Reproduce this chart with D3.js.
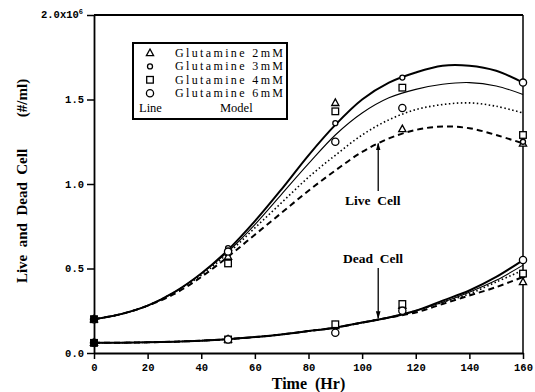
<!DOCTYPE html>
<html>
<head>
<meta charset="utf-8">
<script src="https://cdn.jsdelivr.net/npm/d3@7"></script>
<style>
  body { margin: 0; background: #fff; }
  svg { display: block; }
  text { white-space: pre; }
</style>
</head>
<body>
<div id="chart"></div>
<script>
// measured samples (x10^6 cells/ml)
const dataTimes = [0, 50, 90, 115, 160];
const live2 = [0.20, 0.57, 1.48, 1.325, 1.24];
const live3 = [0.20, 0.62, 1.36, 1.63, 1.25];
const live4 = [0.20, 0.53, 1.43, 1.57, 1.29];
const live6 = [0.20, 0.60, 1.25, 1.45, 1.60];
const dead2 = [0.06, 0.08, 0.16, 0.28, 0.42];
const dead3 = [0.06, 0.08, 0.16, 0.25, 0.46];
const dead4 = [0.06, 0.08, 0.17, 0.29, 0.47];
const dead6 = [0.06, 0.08, 0.12, 0.25, 0.55];

// model curves
const modelTimes = [0, 10, 20, 30, 40, 50, 60, 70, 80, 90, 100, 110, 120, 130, 140, 150, 160];
const modelLive6 = [0.20, 0.23, 0.28, 0.36, 0.47, 0.61, 0.78, 0.97, 1.17, 1.35, 1.50, 1.60, 1.66, 1.70, 1.70, 1.67, 1.60];
const modelLive4 = [0.20, 0.23, 0.28, 0.36, 0.47, 0.60, 0.76, 0.94, 1.12, 1.29, 1.42, 1.51, 1.56, 1.59, 1.60, 1.58, 1.53];
const modelLive3 = [0.20, 0.23, 0.28, 0.36, 0.46, 0.59, 0.74, 0.89, 1.04, 1.17, 1.29, 1.38, 1.44, 1.47, 1.48, 1.46, 1.42];
const modelLive2 = [0.20, 0.23, 0.28, 0.35, 0.45, 0.57, 0.70, 0.83, 0.96, 1.08, 1.19, 1.27, 1.32, 1.34, 1.33, 1.29, 1.24];
const modelDead6 = [0.06, 0.061, 0.063, 0.067, 0.073, 0.082, 0.094, 0.11, 0.13, 0.15, 0.18, 0.21, 0.25, 0.31, 0.37, 0.45, 0.55];
const modelDead4 = [0.06, 0.061, 0.063, 0.067, 0.073, 0.082, 0.094, 0.11, 0.13, 0.15, 0.18, 0.21, 0.25, 0.30, 0.36, 0.43, 0.52];
const modelDead3 = [0.06, 0.061, 0.063, 0.067, 0.073, 0.082, 0.094, 0.11, 0.13, 0.15, 0.18, 0.21, 0.25, 0.30, 0.35, 0.42, 0.49];
const modelDead2 = [0.06, 0.061, 0.063, 0.067, 0.073, 0.082, 0.094, 0.11, 0.13, 0.15, 0.18, 0.21, 0.24, 0.29, 0.34, 0.39, 0.45];

const xTicks = [0, 20, 40, 60, 80, 100, 120, 140, 160];
const yTicks = [0, 0.5, 1.0, 1.5, 2.0];
const legendLabels = ['Glutamine 2mM', 'Glutamine 3mM', 'Glutamine 4mM', 'Glutamine 6mM'];

const width = 535, height = 392;
const margin = { top: 15, right: 12, bottom: 39, left: 94 };
const serif = '"Liberation Serif", "DejaVu Serif", serif';
const mono = '"Liberation Mono", "DejaVu Sans Mono", monospace';

const svg = d3.select('#chart').append('svg')
    .attr('width', width)
    .attr('height', height);

const x = d3.scaleLinear().domain([0, 160]).range([margin.left, width - margin.right]);
const y = d3.scaleLinear().domain([0, 2.0]).range([height - margin.bottom, margin.top]);

// axes
const xAxis = svg.append('g')
    .attr('transform', `translate(0,${y(0)})`)
    .call(d3.axisBottom(x).tickValues(xTicks).tickSize(6).tickSizeOuter(0).tickFormat(d3.format('d')));
const yAxis = svg.append('g')
    .attr('transform', `translate(${x(0)},0)`)
    .call(d3.axisLeft(y).tickValues(yTicks).tickSize(7).tickSizeOuter(0)
        .tickFormat(d => d === 2.0 ? '' : d3.format('.1f')(d)));

[xAxis, yAxis].forEach(a => {
    a.select('.domain').attr('stroke', '#000').attr('stroke-width', 1.8);
    a.selectAll('.tick line').attr('stroke', '#000').attr('stroke-width', 1.5);
    a.selectAll('.tick text')
        .attr('fill', '#000')
        .attr('font-family', mono)
        .attr('font-weight', 'bold')
        .attr('font-size', 10.5);
});
xAxis.selectAll('.tick text').attr('dy', '0.9em');

// 2.0x10^6 top label
const topLab = svg.append('text')
    .attr('x', x(0) - 11)
    .attr('y', y(2.0) + 3)
    .attr('text-anchor', 'end')
    .attr('font-family', mono)
    .attr('font-weight', 'bold')
    .attr('font-size', 10.5)
    .text('2.0x10');
topLab.append('tspan').attr('dy', -4).attr('font-size', 7).text('6');

// frame: top and right
svg.append('line')
    .attr('x1', x(0)).attr('x2', x(160)).attr('y1', y(2.0)).attr('y2', y(2.0))
    .attr('stroke', '#000').attr('stroke-width', 1.8);
svg.append('line')
    .attr('x1', x(160)).attr('x2', x(160)).attr('y1', y(2.0)).attr('y2', y(0))
    .attr('stroke', '#000').attr('stroke-width', 1.5);

// model lines
const styles = {
    s6: { width: 2.0, dash: null },
    s4: { width: 1.1, dash: null },
    s3: { width: 1.6, dash: '1.5,2.5' },
    s2: { width: 2.0, dash: '6,4' }
};
const line = d3.line()
    .x((d, i) => x(modelTimes[i]))
    .y(d => y(d))
    .curve(d3.curveCatmullRom.alpha(0.5));

const curves = [
    [modelLive6, styles.s6], [modelLive4, styles.s4], [modelLive3, styles.s3], [modelLive2, styles.s2],
    [modelDead6, styles.s6], [modelDead4, styles.s4], [modelDead3, styles.s3], [modelDead2, styles.s2]
];
curves.forEach(([vals, st]) => {
    svg.append('path')
        .attr('d', line(vals))
        .attr('fill', 'none')
        .attr('stroke', '#000')
        .attr('stroke-width', st.width)
        .attr('stroke-dasharray', st.dash);
});

// markers
function drawMarker(g, type, cx, cy) {
    const common = sel => sel.attr('fill', '#fff').attr('stroke', '#000').attr('stroke-width', 1.3);
    if (type === 'tri') {
        common(g.append('path').attr('d', `M${cx},${cy - 4}L${cx + 3.6},${cy + 2.6}L${cx - 3.6},${cy + 2.6}Z`));
    } else if (type === 'sq') {
        common(g.append('rect').attr('x', cx - 3.3).attr('y', cy - 3.3).attr('width', 6.6).attr('height', 6.6));
    } else if (type === 'dot') {
        common(g.append('circle').attr('cx', cx).attr('cy', cy).attr('r', 2.5));
    } else {
        common(g.append('circle').attr('cx', cx).attr('cy', cy).attr('r', 3.6));
    }
}

const series = [
    { type: 'tri', live: live2, dead: dead2 },
    { type: 'dot', live: live3, dead: dead3 },
    { type: 'sq', live: live4, dead: dead4 },
    { type: 'circ', live: live6, dead: dead6 }
];
const markG = svg.append('g');
series.forEach(s => {
    dataTimes.forEach((t, i) => {
        drawMarker(markG, s.type, x(t), y(s.live[i]));
        drawMarker(markG, s.type, x(t), y(s.dead[i]));
    });
});
// overlapping starting points appear filled
[live4[0], dead4[0]].forEach(v => {
    markG.append('rect').attr('x', x(dataTimes[0]) - 3.3).attr('y', y(v) - 3.3)
        .attr('width', 6.6).attr('height', 6.6).attr('fill', '#000');
});

// annotations with arrows
svg.append('defs').append('marker')
    .attr('id', 'arrow')
    .attr('viewBox', '0 0 10 10')
    .attr('refX', 9).attr('refY', 5)
    .attr('markerWidth', 6).attr('markerHeight', 6)
    .attr('orient', 'auto')
    .append('path').attr('d', 'M0,2L10,5L0,8Z').attr('fill', '#000');

const annot = svg.append('g').attr('font-family', serif).attr('font-weight', 'bold').attr('font-size', 13.5);
annot.append('text').attr('x', 345).attr('y', 205).text('Live  Cell');
annot.append('line')
    .attr('x1', x(106)).attr('x2', x(106))
    .attr('y1', 191).attr('y2', y(modelLive2[10] + 0.05))
    .attr('stroke', '#000').attr('stroke-width', 1.3).attr('marker-end', 'url(#arrow)');
annot.append('text').attr('x', 343).attr('y', 263).text('Dead  Cell');
annot.append('line')
    .attr('x1', x(106)).attr('x2', x(106))
    .attr('y1', 268).attr('y2', y(modelDead6[10] + 0.025))
    .attr('stroke', '#000').attr('stroke-width', 1.3).attr('marker-end', 'url(#arrow)');

// legend
const legend = svg.append('g').attr('font-family', serif).attr('font-size', 12);
legend.append('rect')
    .attr('x', 133).attr('y', 43).attr('width', 154).attr('height', 76)
    .attr('fill', '#fff').attr('stroke', '#000').attr('stroke-width', 2);
legendLabels.forEach((lab, i) => {
    const ly = 57 + i * 13.4;
    drawMarker(legend, series[i].type, 150, ly - 4);
    legend.append('text').attr('x', 175).attr('y', ly)
        .attr('textLength', 108).attr('lengthAdjust', 'spacing').text(lab);
});
legend.append('text').attr('x', 139).attr('y', 112).attr('font-size', 12.5).text('Line');
legend.append('text').attr('x', 220).attr('y', 112).attr('font-size', 12.5).text('Model');

// axis titles
svg.append('text')
    .attr('x', x(80))
    .attr('y', 389)
    .attr('text-anchor', 'middle')
    .attr('font-family', serif)
    .attr('font-weight', 'bold')
    .attr('font-size', 16)
    .text('Time  (Hr)');
const yTitle = svg.append('g')
    .attr('font-family', serif)
    .attr('font-weight', 'bold')
    .attr('font-size', 15)
    .attr('text-anchor', 'middle');
yTitle.append('text')
    .attr('transform', 'translate(27,216) rotate(-90)')
    .text('Live  and  Dead  Cell');
yTitle.append('text')
    .attr('transform', 'translate(27,98) rotate(-90)')
    .text('(#/ml)');
</script>
</body>
</html>
